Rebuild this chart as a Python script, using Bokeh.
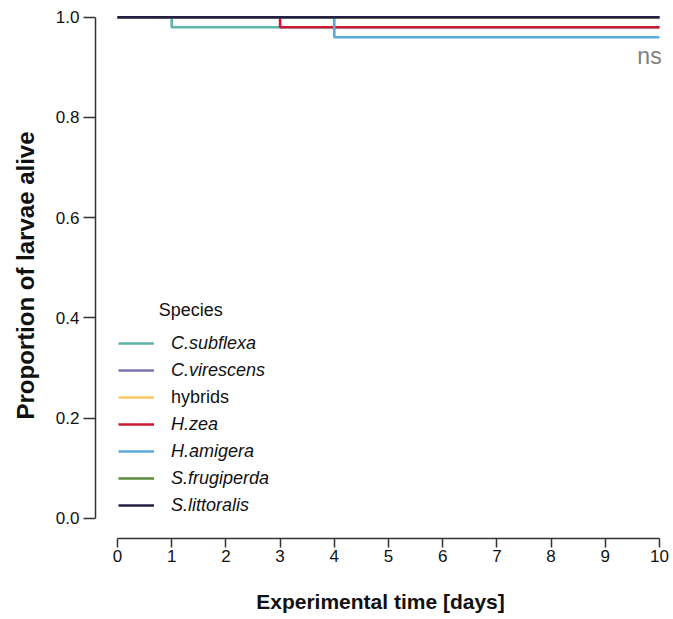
from bokeh.plotting import figure
from bokeh.models import Range1d, Legend, LegendItem, Label, FixedTicker
from bokeh.embed import file_html
from bokeh.resources import INLINE

# ---- data (Kaplan-Meier style survival steps) ----
species = ["C.subflexa", "C.virescens", "hybrids", "H.zea", "H.amigera", "S.frugiperda", "S.littoralis"]
italic = [True, True, False, True, True, True, True]
colors = ["#5bb5a9", "#8074b0", "#fcc862", "#c9182f", "#5aaade", "#5b8a3a", "#252043"]
times = {
    "C.subflexa":   [0, 1, 10],
    "C.virescens":  [0, 10],
    "hybrids":      [0, 10],
    "H.zea":        [0, 3, 10],
    "H.amigera":    [0, 4, 10],
    "S.frugiperda": [0, 10],
    "S.littoralis": [0, 10],
}
surv = {
    "C.subflexa":   [1.0, 0.98, 0.98],
    "C.virescens":  [1.0, 1.0],
    "hybrids":      [1.0, 1.0],
    "H.zea":        [1.0, 0.98, 0.98],
    "H.amigera":    [1.0, 0.96, 0.96],
    "S.frugiperda": [1.0, 1.0],
    "S.littoralis": [1.0, 1.0],
}
x_ticks = [0, 1, 2, 3, 4, 5, 6, 7, 8, 9, 10]
y_ticks = [0.0, 0.2, 0.4, 0.6, 0.8, 1.0]

FONT = "Liberation Sans"
AXIS_COL = "#333333"
TXT = "#111111"

p = figure(width=670, height=617, output_backend="svg", toolbar_location=None,
           x_range=Range1d(-0.406, 10.111), y_range=Range1d(-0.0399, 1.0094),
           min_border_left=95, min_border_right=5, min_border_top=12, min_border_bottom=79)
p.outline_line_color = None
p.xgrid.visible = False
p.ygrid.visible = False

renderers = []
for name, col in zip(species, colors):
    r = p.step(times[name], surv[name], mode="after", line_color=col, line_width=2.6)
    renderers.append(r)

# axes
for ax, ticks, bnds in ((p.xaxis[0], x_ticks, (0, 10)), (p.yaxis[0], y_ticks, (0, 1))):
    ax.ticker = FixedTicker(ticks=ticks)
    ax.bounds = bnds
    ax.axis_line_color = AXIS_COL
    ax.axis_line_width = 1.5
    ax.major_tick_line_color = AXIS_COL
    ax.major_tick_line_width = 1.5
    ax.major_tick_in = 0
    ax.minor_tick_line_color = None
    ax.major_label_text_font = FONT
    ax.major_label_text_font_size = "17px"
    ax.major_label_text_color = TXT
    ax.axis_label_text_font = FONT
    ax.axis_label_text_font_style = "bold"
    ax.axis_label_text_color = TXT

p.xaxis.major_tick_out = 9
p.yaxis.major_tick_out = 12
p.xaxis.major_label_standoff = 2
p.yaxis.major_label_standoff = 4
p.yaxis.major_label_overrides = {0.0: "0.0", 1.0: "1.0"}
p.xaxis.axis_label = "Experimental time [days]"
p.yaxis.axis_label = "Proportion of larvae alive"
p.xaxis.axis_label_text_font_size = "21px"
p.yaxis.axis_label_text_font_size = "24px"
p.xaxis.axis_label_standoff = 25
p.yaxis.axis_label_standoff = 14

# legend: one Legend per row so italics can differ per item
row_centers = [343.5, 370.5, 397.5, 424.5, 451.5, 478.5, 505.5]  # px from top
frame_bottom = 538
for i, (name, r) in enumerate(zip(species, renderers)):
    yc = row_centers[i]
    lg = Legend(items=[LegendItem(label=name, renderers=[r])],
                location=(23, frame_bottom - yc - 10),
                padding=0, margin=0, spacing=0,
                glyph_width=36, glyph_height=20, label_height=20,
                label_standoff=17,
                label_text_font=FONT, label_text_font_size="18px",
                label_text_font_style="italic" if italic[i] else "normal",
                label_text_color=TXT,
                border_line_color=None, background_fill_alpha=0)
    p.add_layout(lg, "center")

p.add_layout(Label(x=0.76, y=0.415, text="Species", text_font=FONT, text_font_size="18px",
                   text_color=TXT, text_baseline="middle", text_align="left"))
p.add_layout(Label(x=10.04, y=0.922, text="ns", text_font=FONT, text_font_size="23px",
                   text_color="#808080", text_baseline="middle", text_align="right"))

open("out.html", "w").write(file_html(p, INLINE))
